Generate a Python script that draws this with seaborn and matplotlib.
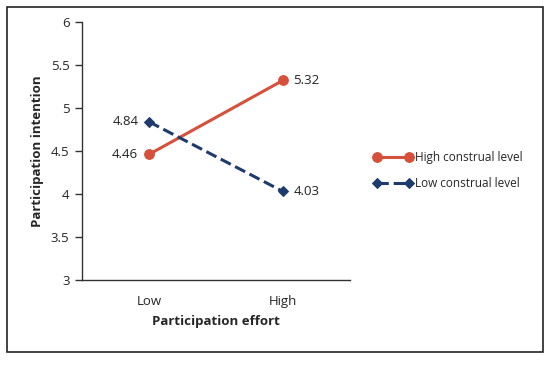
import matplotlib
matplotlib.use("Agg")
import matplotlib.pyplot as plt
from matplotlib.patches import Rectangle
import seaborn as sns
import pandas as pd

# data
efforts = ["Low", "High"]
high_construal = [4.46, 5.32]
low_construal = [4.84, 4.03]
series_names = ["High construal level", "Low construal level"]
y_ticks = [3, 3.5, 4, 4.5, 5, 5.5, 6]
y_tick_labels = ["3", "3.5", "4", "4.5", "5", "5.5", "6"]

df = pd.DataFrame({
    "effort": efforts * 2,
    "intention": high_construal + low_construal,
    "group": [series_names[0]] * 2 + [series_names[1]] * 2,
})

sns.set_style("white")
plt.rcParams['font.family'] = ['Open Sans', 'DejaVu Sans']

fig = plt.figure(figsize=(5.5, 3.66), dpi=100)
ax = fig.add_axes([0.149, 0.235, 0.487, 0.705])

red = "#D5513C"
navy = "#1E3B6E"
styles = {series_names[0]: dict(color=red, ls="-", marker="o", ms=7),
          series_names[1]: dict(color=navy, ls="--", marker="D", ms=5)}

xpos = {e: i for i, e in enumerate(efforts)}
df["x"] = df["effort"].map(xpos)

for name in series_names:
    sub = df[df["group"] == name]
    st = styles[name]
    sns.lineplot(data=sub, x="x", y="intention", ax=ax, color=st["color"],
                 linestyle=st["ls"], marker=st["marker"], markersize=st["ms"],
                 markeredgecolor=st["color"], linewidth=2.2, label=name)

# value labels
for vals in (high_construal, low_construal):
    for i, v in enumerate(vals):
        if i == 0:
            ax.text(i - 0.08, v, f"{v:.2f}", ha="right", va="center", fontsize=9.5, color="#222222")
        else:
            ax.text(i + 0.08, v, f"{v:.2f}", ha="left", va="center", fontsize=9.5, color="#222222")

ax.set_xlim(-0.5, 1.5)
ax.set_ylim(3, 6)
ax.set_yticks(y_ticks)
ax.set_yticklabels(y_tick_labels, fontsize=9.5)
ax.set_xticks(range(len(efforts)))
ax.set_xticklabels(efforts, fontsize=9.5)
ax.tick_params(axis="x", length=0, pad=11)
ax.set_xticks([-0.5, 0.5, 1.5], minor=True)
ax.tick_params(axis="x", which="minor", length=5, width=1, color="#333333")
ax.tick_params(axis="y", length=5, width=1, color="#333333", left=True, pad=4)

for s in ["top", "right"]:
    ax.spines[s].set_visible(False)
for s in ["left", "bottom"]:
    ax.spines[s].set_color("#333333")
    ax.spines[s].set_linewidth(1)

ax.set_xlabel("Participation effort", fontsize=9.5, fontweight="bold", labelpad=5)
ax.set_ylabel("Participation intention", fontsize=9.5, fontweight="bold", labelpad=5)

leg = ax.legend(loc="center left", bbox_to_anchor=(1.05, 0.425), frameon=False,
                fontsize=8.5, handlelength=3.3, handletextpad=0.2, labelspacing=1.1,
                numpoints=2)

fig.patches.append(Rectangle((7 / 550, 1 - 352 / 366), 536 / 550, 345 / 366,
                             transform=fig.transFigure, fill=False,
                             edgecolor="#222222", linewidth=1.2))

fig.savefig("out.png", dpi=100)
